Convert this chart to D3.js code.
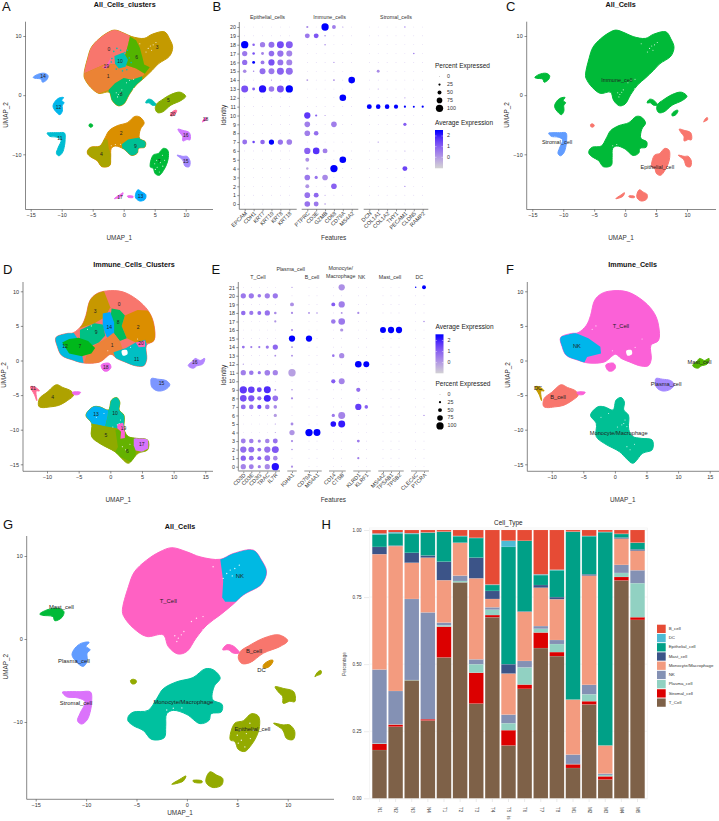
<!DOCTYPE html>
<html><head><meta charset="utf-8">
<script src="https://cdn.jsdelivr.net/npm/d3@7/dist/d3.min.js"></script>
<style>html,body{margin:0;padding:0;background:#fff}svg{display:block;font-family:"Liberation Sans",Arial,sans-serif}</style>
</head><body><svg id="c" width="719" height="821"></svg>
<script>
// ---------- shared UMAP of all cells (data units) ----------
const allMain=[[-6.4,3.3],[-5.8,6.3],[-5.2,8.1],[-4,9.5],[-2.7,10.5],[-1.5,11],[0,10.5],[1.3,9.9],[3.3,9.6],[4.6,10.3],[6.6,10.7],[7.4,9.5],[7.9,8.1],[7.4,6.6],[5.6,5.3],[4.6,4.2],[3.3,2.9],[2,1.7],[.9,.1],[0,-1.5],[-.9,-1.8],[-1.85,-.9],[-2.35,.5],[-4,.3],[-5.3,1.3],[-6.15,2.5]];
const allMono=[[-5.8,-9.3],[-5.3,-8.8],[-3.85,-8.6],[-3,-7.2],[-2.35,-6],[-1,-5.15],[.6,-4.65],[1.8,-3.6],[2.6,-3.7],[3.3,-4.7],[2.7,-5.75],[2.55,-7.3],[3.5,-7.9],[3.4,-8.8],[2.4,-9],[2.2,-9.8],[1.3,-10.2],[0,-9.1],[-1.35,-8.6],[-2,-9],[-2.1,-10.55],[-2.25,-11.9],[-3.5,-12.1],[-4.3,-11.05],[-5.3,-10.45],[-5.85,-9.85]];
const allMast=[[-14.6,3],[-13.9,3.5],[-12.8,3.7],[-12.2,3.3],[-12.4,2.6],[-13.1,2.2],[-13.3,2.7],[-14.3,2.85]];
const allPlasma=[[-9.7,-.4],[-10.45,-.5],[-11.1,-1.1],[-11.4,-1.9],[-11,-2.7],[-10.3,-3.3],[-9.9,-2.7],[-9.9,-1.7],[-9.6,-1.3],[-10,-.9]];
const allStromal=[[-12.35,-6.4],[-11.95,-6.95],[-10.8,-7.1],[-10.1,-7.55],[-10.6,-8.95],[-10.85,-9.85],[-10.45,-10.25],[-9.9,-9.75],[-9.55,-8.55],[-9.45,-7.55],[-9.55,-6.4],[-10.6,-6.35],[-11.95,-6.35]];
const allDot=[[-5.6,-5],[-5.3,-4.85],[-5,-5.05],[-5.1,-5.35],[-5.45,-5.4]];
const allB=[[5.1,-2.3],[5.3,-1.5],[6.1,-.85],[7.6,.1],[9.1,.5],[10,-.2],[9.25,-.9],[7.6,-1.7],[6.25,-2.85],[5.45,-2.95]];
const allBFleck=[[3.55,-1.3],[3.95,-.7],[4.6,-.85],[5.2,-1.65],[4.6,-1.7],[4.1,-1.3]];
const allDC=[[7.6,-3.1],[8.3,-2.55],[8.55,-2.6],[8.2,-3.3],[7.6,-3.5]];
const allE18=[[12.7,-4.55],[13,-3.95],[13.3,-3.8],[13.3,-4.2],[12.9,-4.4]];
const allE16=[[8.75,-5.75],[9.55,-5.95],[10.6,-6.35],[10.7,-7.55],[10.2,-7.5],[9.55,-7.75],[9.5,-6.95],[9.05,-6.35]];
const allE15=[[8.6,-10.15],[9.55,-10.35],[10.2,-10.35],[10.7,-11.15],[10.55,-12.1],[9.9,-12],[9.5,-10.95]];
const allE7=[[4.3,-12.15],[4.75,-10.15],[5.6,-9.85],[6.4,-9],[7.1,-9.3],[7.2,-10.55],[6.9,-11.75],[6.4,-12.75],[5.75,-13.55],[5.1,-13.3],[4.75,-12.35]];
const allE13=[[1.9,-16.8],[2.3,-16],[2.95,-16.4],[3.55,-16.8],[3.45,-17.6],[2.6,-17.9],[1.95,-17.4]];
const allE13Fleck=[[.6,-17.05],[1.5,-17.1],[1.5,-17.3],[.7,-17.25]];
const allE17=[[-1.5,-17.5],[-.7,-16.9],[-.1,-16.5],[-.35,-17.1],[-1,-17.4]];
// sub-regions inside the two large blobs
const r0=[[-7,3.4],[-3.3,5.1],[-.3,5.3],[.3,7],[.7,8.5],[1,9.9],[1,12],[-7,12]];
const r1=[[-7,3.4],[-3.3,5.1],[-.3,5.3],[2,4.5],[3.4,3.6],[3,3.2],[1.3,2.6],[0,2.9],[-1.4,2],[-2.4,.9],[-7,-1]];
const r8=[[-2.4,.9],[-1.4,2],[0,2.9],[1.3,2.6],[3,3.2],[3,-3],[-3,-3]];
const r6=[[1,9.9],[2,9.3],[2.6,8],[3,6.5],[3.3,5.2],[4.2,4.7],[3.4,3.6],[2,4.5],[-.3,5.3],[.3,7],[.7,8.5]];
const r10=[[-1.5,6.6],[0,7.2],[.7,6],[.3,4.8],[-.8,4.5],[-1.4,5.3]];
const r19=[[-3.5,4.7],[-2.8,5.1],[-2,6.4],[-2.4,4.9],[-2.9,4.4]];
const r4=[[-7,-7],[-2.6,-7.5],[-2.4,-9],[-1.9,-10.4],[-1.9,-13],[-7,-13]];
const r9=[[-.3,-8.3],[.7,-7.5],[1.8,-7.3],[3.8,-7],[3.8,-11],[0,-11]];
const rNKall=[[3.3,9.7],[3.6,7],[3.5,5],[3.8,4.5],[9,4.5],[9,12],[3.3,12]];
const specksAll=[[-.85,.1],[-.55,.5],[-1,-.3],[.95,2.5],[1.6,2.7],[.45,2.1],[1.6,1.1],[-1.2,.4],[-.3,.9],[4.3,8.3],[3.95,7.9],[4.75,8.5],[2.6,8.7],[4.5,7.6],[5.2,8.9],[3.6,7.3],[-1.35,-8.35],[-2,-8.55],[-.5,-8.3],[5.4,-12.2],[5.9,-11.4],[6.6,-11],[5.3,-11],[6.25,-10.15],[5.1,-12.55],[5.75,-13],[5,-11.6],[6.3,-12]];
const tealSpecks=[[-1.6,7.4],[-1.1,7.9],[-.5,7.6],[.2,7.2],[-1.9,6.2],[-1.2,4.4],[.9,6.3],[1.2,5.5],[-.2,4.1],[.5,4.3],[-.4,6.9],[.6,7.6],[-2,5.6]];
// ---------- UMAP of immune cells (data units) ----------
const immMain=[[-8.6,3.3],[-6.9,3.9],[-5.85,4],[-4.5,5.1],[-3.85,6.5],[-3.2,8.7],[-2.15,9.65],[-.6,10.05],[2.05,9.9],[4.7,8.45],[6.25,6.8],[6.9,5.1],[6.9,2.9],[5.7,2.2],[5.75,.2],[5.3,-.75],[4.15,-.8],[2.3,-.2],[1,.3],[.1,.9],[-1.65,-.2],[-4.25,-.35],[-5.85,.05],[-7.7,.75],[-8.35,2]];
const immHole=[[1.8,1.4],[2.6,1.5],[2.7,.9],[2,.7]];
const immSmall=[[-1.4,-.6],[-.2,-.4],[.1,-1],[-.4,-1.5],[-1,-1.5],[-1.4,-1]];
const immMono=[[-3.85,-7.9],[-2.7,-6.7],[-1.65,-6.7],[-.3,-7.15],[.2,-5.7],[1,-5.35],[1.5,-6],[1.4,-7.15],[2.15,-7.9],[2.15,-9.6],[2.3,-10.3],[2.85,-11],[4.15,-11.25],[5.9,-11.5],[5.9,-12.9],[4.4,-13.4],[2.85,-14.85],[1.8,-14.15],[.75,-13.2],[-1.65,-12],[-2.95,-11],[-2.95,-9.1]];
const immPlasma=[[6.5,-2.6],[7.5,-2.7],[8.8,-2.9],[9.4,-3.5],[8.7,-4.2],[7.5,-4.4],[6.6,-3.9],[6.4,-3.2]];
const immMast=[[12.3,-.7],[13,-.1],[13.4,.3],[14.2,0],[14.9,.3],[14.6,-.5],[13.6,-.8],[13.2,-1.1],[12.6,-1]];
const immDC=[[-12.6,-3.8],[-12,-3.8],[-11.2,-4.4],[-11.7,-4.4],[-11.6,-5.8],[-12,-4.9]];
const immB=[[-11.3,-6.6],[-11.2,-5.5],[-10,-4.6],[-8.5,-3.5],[-7.5,-3.9],[-6.2,-4.4],[-5.8,-5],[-6.8,-5.8],[-8.2,-6.5],[-9.5,-6.7],[-10.8,-6.8]];
const immBTail=[[-6,-4.6],[-4.7,-4.6],[-5,-4.9],[-5.8,-4.9]];
const d3r=[[-7,4],[-2.5,5.4],[-.8,6.3],[0,7.7],[-1.2,10.5],[-7,10.5]];
const d2r=[[2.3,6.5],[4.3,7.3],[6.5,7.2],[7.5,6],[7.5,2.5],[4,2.6],[2.6,3.2],[1.8,5]];
const d8r=[[.2,7.5],[1.5,7.3],[2.3,6.5],[1.8,5],[2.6,3.2],[1.5,2.8],[.5,4],[0,6]];
const d14r=[[-1.2,6.8],[0,7],[.6,5.5],[.6,3.8],[-.5,3.3],[-1.2,4.8]];
const d9r=[[-4.8,4.4],[-2.5,5.4],[-1.2,5.2],[-.8,3.6],[-1.8,2.6],[-3.5,1.9],[-4.8,2.7]];
const d1r=[[-4.2,-.5],[-3.5,1.5],[-1.8,2.6],[-.5,3.3],[.5,4],[1.5,2.8],[2.2,1],[.5,.7],[-1.5,-.5]];
const d12r=[[-9,4],[-5.8,4],[-4.8,2.7],[-4.2,-.5],[-6,-.5],[-9,.5]];
const d7r=[[-7.6,2.6],[-6.5,3.1],[-5,3.3],[-3.5,2.8],[-2.4,1.8],[-3,1],[-4.5,.6],[-6.5,1]];
const d11r=[[.5,1.2],[2.5,1.8],[4,2.6],[5.5,3],[6.5,.3],[5.5,-1.2],[3,-1],[1,-.2]];
const d20r=[[4,2.6],[5.5,2.9],[5.5,2],[4.5,1.9]];
const d13r=[[-4,-10],[-4,-6.5],[-.3,-6.5],[-.4,-8],[-.8,-9.5],[-2,-9.3],[-3,-9.1]];
const d10r=[[-.4,-8],[-.3,-6.5],[.2,-5.3],[1.2,-5],[1.8,-6],[1.5,-7.2],[2.3,-8],[2.3,-10],[1,-9.8],[-.8,-9.5]];
const d5r=[[-3.2,-9.3],[-2,-9.3],[.8,-10],[1.2,-12.5],[.6,-13.5],[-3,-11.5]];
const d6r=[[.8,-10],[2.3,-10],[3.5,-11],[4,-11.3],[4,-15],[.6,-13.5],[1.2,-12.5]];
const d17r=[[3.7,-11.3],[5,-11],[6,-11.4],[6,-12.7],[5,-13.2],[4,-13],[3.7,-12.3]];
const d19r=[[1.1,-9.2],[2,-9],[2.3,-10],[2.3,-11.2],[1.6,-11.3],[1.7,-10.3],[1.1,-9.8]];
const fNK=[[-9,3.4],[-6.3,4],[-4.2,3.2],[-2.3,2],[-2.2,1],[-4.4,.5],[-5,-.6],[-9,-.6]];
const specksImm=[[1.4,-9.1],[1.9,-9.55],[1.1,-9.3],[1.6,-8.6],[2.4,-12.9],[1.9,-12.45],[-1,-7.65],[-2.2,-8.2],[.4,-9.6],[3.1,-12.1],[-3,5],[-3.6,4.5],[-.4,1.4],[3.2,1.9],[4.3,3.1]];
// ---------- labels ----------
const labelsA=[["0",-2.4,7.7],["1",-2.5,3.1],["3",5.4,8],["6",2.1,6.3],["10",-.6,5.6],["19",-2.8,4.8],["8",-.4,0],["14",-13,3.2],["12",-10.5,-2.2],["5",7.2,-1],["20",7.9,-3.3],["18",13.2,-4.2],["16",10,-6.8],["11",-10.3,-7.3],["2",-.4,-6.5],["9",1.9,-8.7],["4",-3.6,-10.1],["7",5.7,-11.2],["15",10,-11.2],["13",2.7,-17.1],["17",-.6,-17.3]];
const labelsC=[["Immune_cell",-1.35,2.5],["Stromal_cell",-11,-8],["Epithelial_cell",5.2,-12.2]];
const labelsD=[["0",1.4,8.1],["3",-2.4,7],["8",1.25,5.4],["14",-.15,4.7],["2",4.4,4.7],["9",-2.25,4],["12",-7.15,2],["7",-4.8,2],["1",.3,2.2],["20",4.85,2.45],["11",4.15,.15],["18",-.7,-1.05],["15",8.1,-3.4],["16",13.35,-.35],["21",-12.15,-4],["4",-9.1,-5.3],["13",-2.25,-7.9],["10",.75,-7.65],["19",2.1,-9.8],["5",-.7,-10.8],["17",4.95,-12.15],["6",2.7,-13.2]];
const labelsF=[["T_Cell",.95,4.85],["NK",-6,2],["Mast_cell",13.4,-.35],["Plasma_cell",8.1,-3.4],["DC",-12.15,-4],["B_cell",-9,-5.3],["Monocyte/Macrophage",.6,-10.5]];
const labelsG=[["Mast_cell",-12.45,3.8],["Plasma_cell",-11.2,-2.7],["Stromal_cell",-11,-7.8],["T_Cell",-1.85,4.5],["NK",5.25,7.5],["B_cell",6.65,-1.5],["DC",7.4,-3.8],["Monocyte/Macrophage",-.35,-7.65],["Epithelial_cell",6.5,-10.9]];
// ---------- dot plots: [identity, gene, percent, average expression] ----------
const identB=d3.range(0,21), identE=d3.range(0,22);
const groupsB=[["Epithelial_cells",["EPCAM","CDH1","KRT7","KRT19","KRT8","KRT18"]],["Immune_cells",["PTPRC","CD3E","GZMB","CD68","CD79A","MS4A2"]],["Stromal_cells",["DCN","COL1A1","COL1A2","THY1","PECAM1","CLDN5","RAMP2"]]];
const groupsE=[["T_Cell",["CD3D","CD3E","CD3G","TRAC","IL7R"]],["Plasma_cell",["IGHA1"]],["B_cell",["CD79A","MS4A1"]],["Monocyte/|Macrophage",["CD14","CTSB"]],["NK",["KLRD1","KLRF1"]],["Mast_cell",["MS4A2","TPSAB1","TPSB2"]],["DC",["CLEC4C","PTCRA"]]];
const dotsB=[[20,"PTPRC",25,.3],[20,"GZMB",100,2.3],[20,"CD68",50,.5],[20,"CD79A",10,.3],[20,"PECAM1",12,.6],
[19,"PTPRC",65,.6],[19,"CD3E",65,1.2],[19,"GZMB",15,.3],
[18,"EPCAM",100,2.3],[18,"CDH1",30,1],[18,"KRT7",70,.5],[18,"KRT19",80,.8],[18,"KRT8",95,1.4],[18,"KRT18",95,1.1],[18,"GZMB",15,.3],
[17,"EPCAM",70,.6],[17,"CDH1",30,1.3],[17,"KRT7",35,.4],[17,"KRT19",75,.8],[17,"KRT8",85,.7],[17,"KRT18",80,.4],[17,"CLDN5",15,.6],
[16,"EPCAM",70,.8],[16,"CDH1",35,2.3],[16,"KRT7",50,.6],[16,"KRT19",85,1.3],[16,"KRT8",80,.7],[16,"KRT18",80,.4],[16,"CD68",10,.3],
[15,"EPCAM",45,.3],[15,"CDH1",15,.3],[15,"KRT7",80,.8],[15,"KRT19",80,.6],[15,"KRT8",95,1],[15,"KRT18",95,.8],[15,"COL1A1",35,.3],
[14,"KRT19",10,.2],[14,"PTPRC",20,0],[14,"CD68",20,.2],[14,"MS4A2",90,2.3],
[13,"EPCAM",95,1.3],[13,"CDH1",35,1],[13,"KRT7",100,2.2],[13,"KRT19",75,.6],[13,"KRT8",95,1.3],[13,"KRT18",100,2.3],[13,"COL1A1",8,.2],
[12,"CD79A",90,2.3],[12,"PECAM1",10,.1],
[11,"DCN",65,2.3],[11,"COL1A1",60,2.3],[11,"COL1A2",60,2.3],[11,"THY1",55,2.3],[11,"PECAM1",25,2.3],[11,"CLDN5",22,2.3],[11,"RAMP2",25,2.3],
[10,"PTPRC",85,1.7],[10,"CD3E",25,1],[10,"GZMB",10,.2],
[9,"PTPRC",75,.5],[9,"CD68",75,.5],[9,"PECAM1",40,1.1],
[8,"PTPRC",75,.5],[8,"CD3E",60,.8],
[7,"EPCAM",65,.7],[7,"CDH1",30,1.5],[7,"KRT7",60,.9],[7,"KRT19",70,2.3],[7,"KRT8",70,.7],[7,"KRT18",75,.5],[7,"COL1A1",12,.2],
[6,"PTPRC",85,1],[6,"CD3E",90,1.8],[6,"GZMB",65,.5],[6,"PECAM1",8,.1],
[5,"PTPRC",50,.2],[5,"CD79A",90,2.3],
[4,"PTPRC",30,-.2],[4,"CD68",100,2.3],[4,"PECAM1",65,1.5],
[3,"PTPRC",75,.6],[3,"CD3E",40,.7],[3,"GZMB",75,.3],
[2,"PTPRC",50,.1],[2,"CD68",75,1],[2,"PECAM1",12,.5],
[1,"PTPRC",75,.7],[1,"CD3E",65,.9],[1,"GZMB",8,.2],
[0,"PTPRC",75,.7],[0,"CD3E",65,.6],[0,"GZMB",15,.2]];
const dotsE=[[21,"IGHA1",12,.1],[21,"CTSB",85,.2],[21,"CLEC4C",15,2.3],[21,"PTCRA",50,2.3],
[20,"CD3D",70,.6],[20,"CD3E",70,.6],[20,"CD3G",45,.6],[20,"TRAC",70,.5],[20,"IL7R",70,.6],
[19,"IGHA1",50,.2],[19,"CD14",50,1.1],[19,"CTSB",85,.5],
[18,"CD3D",60,.8],[18,"CD3E",55,.6],[18,"CD3G",50,.8],[18,"TRAC",70,.7],[18,"IL7R",30,.3],[18,"IGHA1",25,.3],[18,"CD79A",20,.3],[18,"MS4A1",15,.3],[18,"CTSB",20,.2],[18,"KLRD1",25,.3],
[17,"IL7R",25,.1],[17,"CD14",60,.6],[17,"CTSB",90,.6],[17,"PTCRA",15,.3],
[16,"IGHA1",25,.3],[16,"CTSB",40,.1],[16,"MS4A2",80,2.3],[16,"TPSAB1",85,2.3],[16,"TPSB2",85,2.3],
[15,"IGHA1",85,2.3],[15,"CD79A",85,2.3],
[14,"CD3D",35,.7],[14,"CD3E",25,.5],[14,"CD3G",25,.6],[14,"TRAC",40,.6],[14,"IL7R",70,.9],[14,"IGHA1",20,.3],
[13,"IL7R",20,.2],[13,"IGHA1",20,.3],[13,"CD14",30,.7],[13,"CTSB",70,.3],
[12,"CD3D",10,.2],[12,"KLRD1",90,2.3],[12,"KLRF1",80,2.3],
[11,"CD3D",70,.5],[11,"CD3E",60,.6],[11,"CD3G",40,.7],[11,"TRAC",75,.5],[11,"IL7R",70,.4],[11,"IGHA1",100,-.1],
[10,"CD14",55,1.1],[10,"CTSB",80,.4],
[9,"CD3D",100,1.7],[9,"CD3E",90,1.6],[9,"CD3G",65,1.5],[9,"TRAC",95,1.9],[9,"IL7R",20,.2],[9,"IGHA1",15,.2],[9,"KLRD1",55,.8],
[8,"CD3D",90,1.4],[8,"CD3E",85,1.2],[8,"CD3G",55,.9],[8,"TRAC",95,2],[8,"IL7R",75,.7],[8,"IGHA1",25,.3],
[7,"CD3D",65,.8],[7,"CD3E",60,.8],[7,"CD3G",55,1.5],[7,"TRAC",60,.6],[7,"IL7R",45,.3],[7,"KLRD1",85,1.6],[7,"KLRF1",45,1],
[6,"IL7R",40,0],[6,"CD14",40,.6],[6,"CTSB",95,.4],[6,"PTCRA",12,.3],
[5,"IGHA1",35,.3],[5,"IL7R",10,.1],[5,"CD14",75,2.2],[5,"CTSB",95,2.1],
[4,"IGHA1",70,.1],[4,"CD79A",100,2.3],[4,"MS4A1",95,2.3],[4,"IL7R",8,.1],
[3,"CD3D",65,.5],[3,"CD3E",60,.5],[3,"CD3G",40,.5],[3,"TRAC",60,.4],[3,"IL7R",65,.7],[3,"IGHA1",25,.3],[3,"KLRD1",35,.6],
[2,"CD3D",85,.8],[2,"CD3E",80,.8],[2,"CD3G",50,.7],[2,"TRAC",85,.7],[2,"IL7R",95,1.2],[2,"IGHA1",15,.3],
[1,"CD3D",70,1],[1,"CD3E",65,.8],[1,"CD3G",50,1],[1,"TRAC",75,.7],[1,"IL7R",60,.3],[1,"KLRD1",25,.5],
[0,"CD3D",70,.4],[0,"CD3E",65,.5],[0,"CD3G",40,.5],[0,"TRAC",70,.3],[0,"IL7R",100,2.2],[0,"IGHA1",25,.2]];
const pctLegend=[0,25,50,75,100], expLegend=[2,1,0];
// ---------- stacked bars ----------
const samples=["N1","N2","N3","N4","T1","T2","T3","T4","T5","T6","T7","T8","M1","M2","M3","M4","M5"];
const cellTypes=["B_cell","DC","Epithelial_cell","Mast_cell","Monocyte/Macrophage","NK","Plasma_cell","Stromal_cell","T_Cell"];
const typeColors=["#E64B35","#4DBBD5","#00A087","#3C5488","#F39B7F","#8491B4","#91D1C2","#DC0000","#7E6148"];
const tCell=[.18,.267,.44,.29,.525,.805,.353,.675,.197,.408,.56,.53,.113,.35,.07,.812,.665];
const stromal=[.023,.008,0,.005,.115,0,.115,.008,.057,.016,.058,.015,.014,.012,.012,.013,.01];
const plasma=[.002,.001,.001,0,.005,.005,.032,.02,.026,.064,.014,.03,.001,.026,.005,.015,.127];
const nk=[.275,.124,.302,.398,.01,.02,.018,.009,.032,.024,.01,.015,.035,.035,.005,.03,.048];
const mono=[.43,.54,.135,.204,.158,.122,.302,.031,.153,.183,.143,.152,.205,.407,.105,.098,.073];
const mast=[.027,.002,.037,.008,.069,.001,.077,.03,.035,.002,.01,.008,0,.005,0,.004,.005];
const epi=[.046,.046,.07,.085,.111,.024,.073,.022,.437,.263,.037,.1,.625,.142,.795,.013,.024];
const dc=[.004,.004,.003,.001,.001,.001,.001,.002,.023,0,.003,.002,.001,.001,.001,.001,.001];
const bCell=[.013,.008,.012,.009,.006,.022,.029,.203,.04,.04,.165,.148,.006,.022,.007,.014,.047];

// ---------- helpers ----------
const svg=d3.select("#c");
const INK="#333";
function hue(n,i){ // ggplot default palette: polar LUV
  const h=(15+360*i/n)*Math.PI/180,L=65,u=100*Math.cos(h),v=100*Math.sin(h);
  const Y=Math.pow((L+16)/116,3),up=u/(13*L)+.19784,vp=v/(13*L)+.46834;
  const X=9*Y*up/(4*vp),Z=(12-3*up-20*vp)*Y/(4*vp);
  const g=c=>{c=Math.max(0,Math.min(1,c));return 255*(c<=.0031308?12.92*c:1.055*Math.pow(c,1/2.4)-.055)};
  return d3.rgb(g(3.2406*X-1.5372*Y-.4986*Z),g(-.9689*X+1.8758*Y+.0415*Z),g(.0557*X-.204*Y+1.057*Z)).formatHex();
}
function text(x,y,s,o={}){
  const t=svg.append("text").attr("x",x).attr("y",y).text(s).attr("font-size",o.size||6.5).attr("fill",o.fill||"#222")
    .attr("text-anchor",o.anchor||"middle").attr("dominant-baseline","middle");
  if(o.bold)t.attr("font-weight","bold");
  if(o.rot!=null)t.attr("transform",`rotate(${o.rot} ${x} ${y})`);
  return t;
}
function styleAxis(g,size,col){
  g.select(".domain").remove();
  g.selectAll("line").attr("stroke",col||"#444").attr("stroke-width",.6);
  g.selectAll("text").attr("fill",INK).attr("font-size",size||5.5).attr("font-family",null);
}
let uid=0;
function umap(cfg){
  const x=d3.scaleLinear().domain(cfg.xd).range(cfg.xp), y=d3.scaleLinear().domain(cfg.yd).range(cfg.yp);
  const b=cfg.box, g=svg.append("g");
  const smooth=d3.line().x(d=>x(d[0])).y(d=>y(d[1])).curve(d3.curveCatmullRomClosed.alpha(.5));
  const sharp=d3.line().x(d=>x(d[0])).y(d=>y(d[1])).curve(d3.curveLinearClosed);
  const col=i=>typeof i==="string"?i:cfg.pal[i];
  cfg.blobs.forEach(bl=>{
    g.append("path").attr("d",smooth(bl[0])).attr("fill",col(bl[1])).attr("stroke",col(bl[1])).attr("stroke-width",1).attr("stroke-linejoin","round");
    if(bl[2]){
      const id="cp"+(uid++);
      g.append("clipPath").attr("id",id).append("path").attr("d",smooth(bl[0]));
      const inner=g.append("g").attr("clip-path",`url(#${id})`);
      bl[2].forEach(p=>inner.append("path").attr("d",sharp(p[0])).attr("fill",col(p[1])));
    }
  });
  (cfg.colorSpecks||[]).forEach(s=>g.selectAll(null).data(s[0]).join("circle").attr("cx",d=>x(d[0])).attr("cy",d=>y(d[1])).attr("r",.8).attr("fill",col(s[1])));
  if(cfg.holes)cfg.holes.forEach(h=>g.append("path").attr("d",smooth(h)).attr("fill","#fff"));
  g.selectAll(null).data(cfg.specks).join("circle").attr("cx",d=>x(d[0])).attr("cy",d=>y(d[1])).attr("r",cfg.speckR||.55).attr("fill","#fff").attr("fill-opacity",.85);
  g.append("line").attr("x1",b.l).attr("x2",b.r).attr("y1",b.b).attr("y2",b.b).attr("stroke","#555").attr("stroke-width",.7);
  g.append("line").attr("x1",b.l).attr("x2",b.l).attr("y1",b.t).attr("y2",b.b).attr("stroke","#555").attr("stroke-width",.7);
  const ax=g.append("g").attr("transform",`translate(0,${b.b})`).call(d3.axisBottom(x).tickValues(cfg.xt).tickSize(2.2).tickPadding(1.8));styleAxis(ax);
  const ay=g.append("g").attr("transform",`translate(${b.l},0)`).call(d3.axisLeft(y).tickValues(cfg.yt).tickSize(2.2).tickPadding(1.8));styleAxis(ay);
  cfg.labels.forEach(l=>text(x(l[1]),y(l[2]),l[0],{size:cfg.labelSize,fill:"#222"}));
  text(cfg.title[0],cfg.title[1],cfg.title[2],{size:7.2,bold:true,fill:"#111"});
  text(cfg.xl[0],cfg.xl[1],"UMAP_1",{size:6.4,fill:INK});
  text(cfg.yl[0],cfg.yl[1],"UMAP_2",{size:6.4,fill:INK,rot:-90});
}
const allX={xd:[-15,10],xt:[-15,-10,-5,0,5,10],yd:[-10,10],yt:[-10,0,10]};
const immX={xd:[-10,15],xt:[-10,-5,0,5,10,15],yd:[-15,10],yt:[-15,-10,-5,0,5,10]};
// A
const pA=d3.range(21).map(i=>hue(21,i));
umap({...allX,xp:[30.7,185.7],yp:[154.3,36],box:{l:25.5,r:213,t:21.7,b:209.5},pal:pA,labelSize:5,labels:labelsA,specks:specksAll,
 colorSpecks:[[tealSpecks,10]],
 blobs:[[allMain,3,[[r0,0],[r1,1],[r8,8],[r6,6],[r10,10],[r19,19]]],[allMono,2,[[r4,4],[r9,9]]],[allMast,14],[allPlasma,12],[allStromal,11],[allDot,7],[allB,5],[allBFleck,10],[allDC,20],[allE18,18],[allE16,16],[allE15,15],[allE7,7],[allE13,13],[allE13Fleck,17],[allE17,17]],
 title:[124.7,5,"All_Cells_clusters"],xl:[119.3,238.7],yl:[6.7,115]});
// C
const pC=d3.range(3).map(i=>hue(3,i));
umap({...allX,xp:[532.3,687],yp:[154.3,36],box:{l:526.7,r:716,t:21.7,b:209.5},pal:pC,labelSize:5.5,labels:labelsC,specks:specksAll.slice(0,18),
 blobs:[[allMain,1],[allMono,1],[allMast,1],[allPlasma,1],[allStromal,2],[allDot,0],[allB,1],[allBFleck,1],[allDC,1],[allE18,0],[allE16,0],[allE15,0],[allE7,0],[allE13,0],[allE13Fleck,0],[allE17,0]],
 title:[620.7,5,"All_Cells"],xl:[621,238.7],yl:[507.3,115]});
// D
const pD=d3.range(22).map(i=>hue(22,i));
umap({...immX,xp:[47,205.3],yp:[464.3,291.3],box:{l:23,r:213,t:282,b:471.3},pal:pD,labelSize:5,labels:labelsD,specks:specksImm,holes:[immHole],
 blobs:[[immMain,0,[[d3r,3],[d2r,2],[d8r,8],[d14r,14],[d9r,9],[d1r,1],[d12r,12],[d7r,7],[d11r,11],[d20r,20]]],[immSmall,18],[immMono,5,[[d13r,13],[d10r,10],[d5r,5],[d6r,6],[d17r,17],[d19r,19]]],[immPlasma,15],[immMast,16],[immDC,21],[immB,4],[immBTail,18]],
 title:[134,265,"Immune_Cells_Clusters"],xl:[118.3,500.7],yl:[4,375]});
// F
const pF=d3.range(7).map(i=>hue(7,i));
umap({...immX,xp:[551.7,709.7],yp:[464.3,291.3],box:{l:527.3,r:719,t:282,b:471.3},pal:pF,labelSize:5.7,labels:labelsF,specks:specksImm,holes:[immHole],
 blobs:[[immMain,6,[[fNK,4]]],[immSmall,6],[immMono,3],[immPlasma,5],[immMast,2],[immDC,1],[immB,0],[immBTail,6]],
 title:[632.7,265,"Immune_Cells"],xl:[622.7,500.7],yl:[508.3,375]});
// G
const pG=d3.range(9).map(i=>hue(9,i));
umap({...allX,xp:[35.7,287.7],yp:[722,556],box:{l:26.7,r:334,t:536,b:799.3},pal:pG,labelSize:5.9,labels:labelsG,specks:specksAll,speckR:.7,
 blobs:[[allMain,8,[[rNKall,5]]],[allMono,4],[allMast,3],[allPlasma,6],[allStromal,7],[allDot,2],[allB,0],[allBFleck,8],[allDC,1],[allE18,2],[allE16,2],[allE15,2],[allE7,2],[allE13,2],[allE13Fleck,2],[allE17,2]],
 title:[180,527.3,"All_Cells"],xl:[180,813.3],yl:[6,666.7]});
// panel letters
[["A",2,8],["B",212.5,8],["C",506,8],["D",3,271],["E",211.5,271],["F",506,271],["G",3,525.5],["H",321.5,525.5]].forEach(l=>text(l[1],l[2],l[0],{size:13,anchor:"start",fill:"#111"}));

// ---------- dot plots ----------
const rS=d3.scaleLinear().domain([0,100]).range([.25,3.65]);
const col=d3.scaleLinear().domain([-1,2.3]).range(["#d3d3d3","#0000ff"]).interpolate(d3.interpolateLab).clamp(true);
function dotPlot(cfg){
  const y=d3.scaleLinear().domain([0,cfg.idents.length-1]).range(cfg.yp);
  const g=svg.append("g");
  const ay=g.append("g").attr("transform",`translate(${cfg.left},0)`).call(d3.axisLeft(y).tickValues(cfg.idents).tickFormat(d3.format("d")).tickSize(2).tickPadding(1.3));
  styleAxis(ay,5.3);
  g.append("line").attr("x1",cfg.left).attr("x2",cfg.left).attr("y1",cfg.top).attr("y2",cfg.bottom).attr("stroke","#555").attr("stroke-width",.7);
  cfg.groups.forEach((gr,i)=>{
    const [first,last,ax0,ax1]=cfg.facets[i];
    const x=d3.scalePoint().domain(gr[1]).range(gr[1].length>1?[first,last]:[first,first]);
    const ax=g.append("g").attr("transform",`translate(0,${cfg.bottom})`).call(d3.axisBottom(x).tickSize(2));
    styleAxis(ax);
    ax.selectAll("text").attr("text-anchor","end").attr("dx",0).attr("dy",0).attr("y",0).attr("transform","translate(1.2,3.4) rotate(-45)").attr("dominant-baseline","middle");
    g.append("line").attr("x1",ax0).attr("x2",ax1).attr("y1",cfg.bottom).attr("y2",cfg.bottom).attr("stroke",cfg.axisCol).attr("stroke-width",cfg.axisW);
    const lookup=new Map(cfg.dots.filter(d=>gr[1].includes(d[1])).map(d=>[d[0]+"|"+d[1],d]));
    const cells=d3.cross(cfg.idents,gr[1]).map(([id,f])=>lookup.get(id+"|"+f)||[id,f,2,0]);
    g.selectAll(null).data(cells).join("circle").attr("cx",d=>x(d[1])).attr("cy",d=>y(d[0])).attr("r",d=>rS(d[2])).attr("fill",d=>col(d[3]));
    const t=cfg.titles[i];
    String(gr[0]).split("|").forEach((line,k)=>text(t[0],t[1]+k*7.7,line,{size:5.3,fill:"#333"}));
  });
  text(cfg.xl[0],cfg.xl[1],"Features",{size:6.4,fill:INK});
  text(cfg.yl[0],cfg.yl[1],"Identity",{size:6.4,fill:INK,rot:-90});
  const lg=cfg.legend;
  text(lg.x,lg.pctY,"Percent Expressed",{size:6.5,anchor:"start",fill:"#222"});
  pctLegend.forEach((p,i)=>{
    const cy=lg.pctY+lg.dot0+i*lg.dotStep;
    g.append("circle").attr("cx",lg.x+4.5).attr("cy",cy).attr("r",rS(p)).attr("fill","#000");
    text(lg.x+12,cy,String(p),{size:5.3,anchor:"start",fill:"#333"});
  });
  text(lg.x,lg.expY,"Average Expression",{size:6.5,anchor:"start",fill:"#222"});
  const id="grad"+(uid++);
  const grad=g.append("linearGradient").attr("id",id).attr("x1",0).attr("y1",1).attr("x2",0).attr("y2",0);
  const ey=d3.scaleLinear().domain(lg.bar).range([lg.barBottom,lg.barTop]);
  d3.range(0,1.001,.1).forEach(f=>grad.append("stop").attr("offset",f).attr("stop-color",col(lg.bar[0]+f*(lg.bar[1]-lg.bar[0]))));
  g.append("rect").attr("x",lg.x).attr("y",lg.barTop).attr("width",8).attr("height",lg.barBottom-lg.barTop).attr("fill",`url(#${id})`);
  expLegend.forEach(v=>{
    g.append("line").attr("x1",lg.x).attr("x2",lg.x+1.6).attr("y1",ey(v)).attr("y2",ey(v)).attr("stroke","#fff").attr("stroke-width",.4);
    g.append("line").attr("x1",lg.x+6.4).attr("x2",lg.x+8).attr("y1",ey(v)).attr("y2",ey(v)).attr("stroke","#fff").attr("stroke-width",.4);
    text(lg.x+12,ey(v),String(v),{size:5.3,anchor:"start",fill:"#333"});
  });
}
dotPlot({idents:identB,groups:groupsB,dots:dotsB,yp:[204,27],left:239.3,top:22,bottom:209.3,axisCol:"#555",axisW:.7,
 facets:[[244.7,289.3,239.3,296.7],[307.3,351.7,301.7,358.3],[369.3,422.7,363.7,428.3]],
 titles:[[267.5,17.5],[329.5,17.5],[396,17.5]],xl:[333.7,238],yl:[224,115],
 legend:{x:435,pctY:66.7,dot0:10,dotStep:7.9,expY:123.3,bar:[-1.03,2.56],barTop:130,barBottom:168.3}});
dotPlot({idents:identE,groups:groupsE,dots:dotsE,yp:[466.7,287.3],left:238.3,top:282,bottom:471,axisCol:"#aaa",axisW:1.3,
 facets:[[243.3,275.3,238.3,280],[292,292,287.3,296.7],[309,317,304.3,321.7],[333.3,341.7,329,345.7],[358.3,366.3,353.3,370.7],[383,399,378.3,403.7],[415.7,424,411,429]],
 titles:[[258,278],[290.7,269.3],[312,278],[340.7,269],[361.7,278],[390,278],[419.3,278]],xl:[333.3,500.7],yl:[224,375],
 legend:{x:435.5,pctY:384,dot0:10.3,dotStep:7.9,expY:327.7,bar:[-.97,2.56],barTop:334.3,barBottom:373.3}});

// ---------- stacked bar H ----------
(function(){
  const series=[tCell,stromal,plasma,nk,mono,mast,epi,dc,bCell];
  const order=cellTypes.slice().reverse();
  const rows=samples.map((s,i)=>{const r={s};order.forEach((t,k)=>r[t]=series[k][i]);return r;});
  const stack=d3.stack().keys(order)(rows);
  const x=d3.scaleBand().domain(samples).range([370.6,646.4]).padding(.1);
  const y=d3.scaleLinear().domain([0,1]).range([798.3,530]);
  const color=d3.scaleOrdinal().domain(cellTypes).range(typeColors);
  const g=svg.append("g");
  const ticks=[0,.25,.5,.75,1];
  g.selectAll(null).data(ticks).join("line").attr("x1",369.3).attr("x2",647.3).attr("y1",d=>y(d)).attr("y2",d=>y(d)).attr("stroke","#e9e9e9").attr("stroke-width",.5);
  g.selectAll(null).data(samples).join("line").attr("x1",d=>x(d)+x.bandwidth()/2).attr("x2",d=>x(d)+x.bandwidth()/2).attr("y1",530).attr("y2",798.3).attr("stroke","#e9e9e9").attr("stroke-width",.5);
  g.append("rect").attr("x",369.3).attr("y",528).attr("width",278).attr("height",271).attr("fill","none").attr("stroke","#eee").attr("stroke-width",.6);
  g.selectAll(null).data(stack).join("g").attr("fill",d=>color(d.key)).selectAll("rect").data(d=>d).join("rect")
    .attr("x",d=>x(d.data.s)).attr("width",x.bandwidth()).attr("y",d=>y(d[1])).attr("height",d=>y(d[0])-y(d[1]))
    .attr("stroke","#fff").attr("stroke-opacity",.3).attr("stroke-width",.3);
  const ay=g.append("g").attr("transform","translate(369,0)").call(d3.axisLeft(y).tickValues(ticks).tickFormat(d3.format(".2f")).tickSize(5).tickPadding(2.5));
  styleAxis(ay,4.6,"#ddd");
  const ax=g.append("g").attr("transform","translate(0,799)").call(d3.axisBottom(x).tickSize(3));
  styleAxis(ax,4.6,"#ddd");
  ax.selectAll("text").attr("text-anchor","start").attr("y",0).attr("dy",0).attr("transform","translate(0,8) rotate(90)").attr("dominant-baseline","middle").attr("fill","#444");
  text(508.3,523.5,"Cell_Type",{size:6.4,fill:"#222"});
  text(345,664,"Percentage",{size:4.6,fill:"#444",rot:-90});
  text(508,818,"is",{size:4.6,fill:"#444",rot:90});
  cellTypes.forEach((t,i)=>{
    const yy=624.7+i*9.22;
    g.append("rect").attr("x",657).attr("y",yy).attr("width",8.7).attr("height",8.3).attr("fill",typeColors[i]);
    text(668.7,yy+4.2,t,{size:4.4,anchor:"start",fill:"#333"});
  });
})();
</script></body></html>
